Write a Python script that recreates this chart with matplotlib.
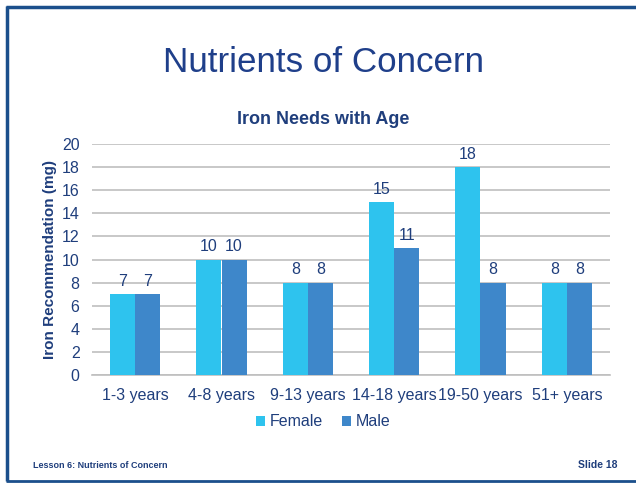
import matplotlib
matplotlib.use("Agg")
import matplotlib.pyplot as plt
import numpy as np
from matplotlib.lines import Line2D

categories = ["1-3 years", "4-8 years", "9-13 years", "14-18 years", "19-50 years", "51+ years"]
female = [7, 10, 8, 15, 18, 8]
male = [7, 10, 8, 11, 8, 8]
yticks = [0, 2, 4, 6, 8, 10, 12, 14, 16, 18, 20]

plt.rcParams['font.family'] = ['Liberation Sans', 'DejaVu Sans']
W, H = 636, 483
fig = plt.figure(figsize=(W/100, H/100), dpi=100)
fig.patch.set_facecolor('white')

navy = '#1F3E7C'
fcol = '#2EC3EE'
mcol = '#3E87CA'

# slide border
fig.add_artist(Line2D([6.5/W, 6.5/W], [1-6/H, 1-481/H], color='#1B4F8C', lw=2.5, solid_capstyle='butt', transform=fig.transFigure))
fig.add_artist(Line2D([5.5/W, 1], [1-6.5/H, 1-6.5/H], color='#1B4F8C', lw=2.5, solid_capstyle='butt', transform=fig.transFigure))
fig.add_artist(Line2D([5.5/W, 1], [1-480.5/H, 1-480.5/H], color='#1B4F8C', lw=2.0, solid_capstyle='butt', transform=fig.transFigure))

fig.text(323/W, 1-63/H, "Nutrients of Concern", ha='center', va='center', fontsize=25.2, color='#1F3F8A')
fig.text(323/W, 1-119/H, "Iron Needs with Age", ha='center', va='center', fontsize=13, fontweight='bold', color=navy)
fig.text(33/W, 1-465/H, "Lesson 6: Nutrients of Concern", ha='left', va='center', fontsize=6.5, fontweight='bold', color=navy)
fig.text(617/W, 1-465/H, "Slide 18", ha='right', va='center', fontsize=7.5, fontweight='bold', color=navy)

left, right, top, bottom = 92, 610, 144, 375
ax = fig.add_axes([left/W, 1-bottom/H, (right-left)/W, (bottom-top)/H])
x = np.arange(len(categories))
bw = 0.29
bf = ax.bar(x - bw/2, female, bw, color=fcol, label='Female', zorder=3)
bm = ax.bar(x + bw/2, male, bw, color=mcol, label='Male', zorder=3)
for rects in (bf, bm):
    for r in rects:
        ax.text(r.get_x() + r.get_width()/2, r.get_height() + 0.45, f"{int(r.get_height())}",
                ha='center', va='bottom', fontsize=11.5, color=navy)

ax.set_xlim(-0.5, len(categories) - 0.5)
ax.set_ylim(0, 20)
ax.set_yticks(yticks)
ax.set_xticks(x)
ax.set_xticklabels(categories)
ax.tick_params(axis='both', length=0, labelsize=11.5, labelcolor=navy)
ax.tick_params(axis='x', pad=9.5)
ax.tick_params(axis='y', pad=9)
ax.yaxis.grid(True, color='#BFBFBF', lw=1.2, zorder=0)
for s in ['left', 'right', 'top']:
    ax.spines[s].set_visible(False)
ax.spines['bottom'].set_color('#BFBFBF')
ax.spines['bottom'].set_linewidth(1.2)
ax.set_facecolor('none')
ax.set_ylabel("Iron Recommendation (mg)", fontsize=11, fontweight='bold', color=navy, labelpad=3)

leg = fig.legend(handles=[bf, bm], labels=['Female', 'Male'], loc='center', bbox_to_anchor=(323/W, 1-422/H),
                 ncol=2, frameon=False, fontsize=11.5, handlelength=0.55, handleheight=0.55,
                 handletextpad=0.3, columnspacing=1.2)
for t in leg.get_texts():
    t.set_color(navy)

fig.savefig("out.png", dpi=100, facecolor='white')
